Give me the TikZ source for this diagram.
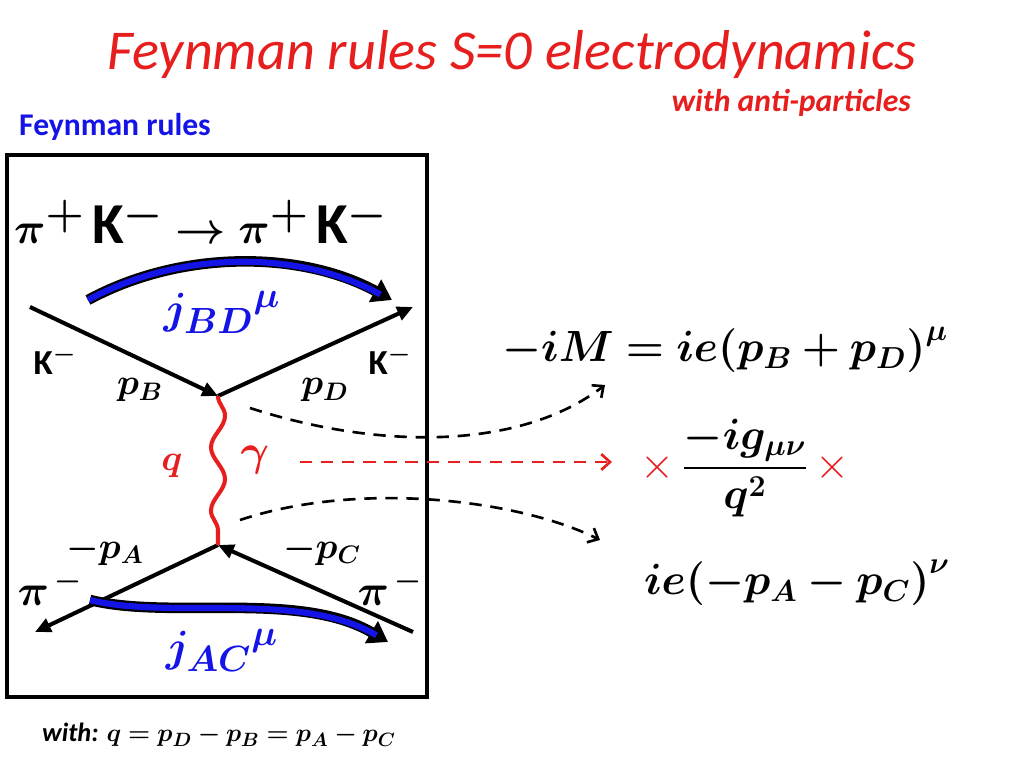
\documentclass[tikz,border=0pt]{standalone}
\usepackage{amsmath,amssymb,bm}
\usepackage{fontspec}
\setmainfont{Carlito}
\usetikzlibrary{arrows,arrows.meta,decorations.pathmorphing}
\definecolor{pptred}{RGB}{230,30,30}
\definecolor{pptblue}{RGB}{20,20,230}
\tikzset{
  leg/.style={line width=2.3pt,-{Triangle[length=9pt,width=8pt]}},
  dashlink/.style={dash pattern=on 7pt off 5pt,line width=1.5pt,->,>={Straight Barb[length=5pt,width=9pt]}},
  lbl/.style={font=\fontsize{20}{22}\selectfont\bfseries},
}
\begin{document}
\begin{tikzpicture}[x=0.02cm,y=-0.02cm]
  \useasboundingbox (0,0) rectangle (1024,768);
  % titles
  \node[text=pptred,font=\fontsize{32}{36}\selectfont\itshape] (title) at (512,55) {Feynman rules S=0 electrodynamics};
  \node[text=pptred,anchor=east,font=\fontsize{18}{20}\selectfont\bfseries\itshape] (sub) at (917,103) {with anti-particles};
  \node[text=pptblue,font=\fontsize{18}{20}\selectfont\bfseries] (fr) at (115,127) {Feynman rules};
  \draw[line width=1.8pt] (7,155) rectangle (427,697);
  \node[anchor=west,font=\fontsize{33}{36}\selectfont\bfseries] (proc) at (8,222) {$\bm{\pi}^{\bm+}\,$K$^{\bm-}\bm\rightarrow\bm{\pi}^{\bm+}\,$K$^{\bm-}$};
  % vertices
  \coordinate (vt) at (218,396);
  \coordinate (vb) at (218,545);
  \coordinate (kin) at (30,307);
  \coordinate (kout) at (413,307);
  \coordinate (pin) at (413,632);
  \coordinate (pout) at (35,632);
  \draw[leg] (kin) -- (vt);
  \draw[leg] (vt) -- (kout);
  \draw[leg] (pin) -- (vb);
  \draw[leg] (vb) -- (pout);
  \draw[pptred,line width=2.3pt,decorate,decoration={snake,amplitude=4pt,segment length=36pt}] (vt) -- (vb);
  % currents
  \draw[line width=6pt,black,-{Triangle[length=11pt,width=14pt]}] (88,300) .. controls (180,250) and (300,250) .. (392,300);
  \draw[line width=3.5pt,pptblue,shorten >=3pt] (88,300) .. controls (180,250) and (300,250) .. (385,297);
  \draw[line width=6pt,black,-{Triangle[length=11pt,width=14pt]}] (90,600) .. controls (170,620) and (300,590) .. (388,642);
  \draw[line width=3.5pt,pptblue,shorten >=3pt] (90,600) .. controls (170,620) and (300,590) .. (381,638);
  \node[text=pptblue,font=\fontsize{31}{34}\selectfont] (jbd) at (222,312) {${\bm{j}}_{\bm{BD}}{}^{\bm\mu}$};
  \node[text=pptblue,font=\fontsize{31}{34}\selectfont] (jac) at (222,650) {${\bm{j}}_{\bm{AC}}{}^{\bm\mu}$};
  % labels
  \node[lbl] (k1) at (55,360) {K$^{\bm-}$};
  \node[lbl] (k2) at (390,360) {K$^{\bm-}$};
  \node[lbl] (pb) at (140,390) {$\bm{p_B}$};
  \node[lbl] (pd) at (325,390) {$\bm{p_D}$};
  \node[lbl,text=pptred] (q) at (172,466) {$\bm q$};
  \node[text=pptred,font=\fontsize{28}{30}\selectfont] (g) at (255,460) {$\bm\gamma$};
  \node[lbl] (pa) at (105,550) {$\bm{-p_A}$};
  \node[lbl] (pc) at (322,550) {$\bm{-p_C}$};
  \node[font=\fontsize{24}{26}\selectfont] (pi1) at (50,588) {$\bm\pi^{\,\bm-}$};
  \node[font=\fontsize{24}{26}\selectfont] (pi2) at (390,588) {$\bm\pi^{\,\bm-}$};
  % rule
  \node[font=\fontsize{26}{28}\selectfont] (vtx) at (725,350) {$\bm{-iM=ie(p_B+p_D)^{\mu}}$};
  \node[font=\fontsize{26}{28}\selectfont] (prop) at (745,468) {$\textcolor{pptred}{\times}\,\dfrac{\bm{-ig_{\mu\nu}}}{\bm{q^2}}\,\textcolor{pptred}{\times}$};
  \node[font=\fontsize{26}{28}\selectfont] (vtx2) at (797,583) {$\bm{ie(-p_A-p_C)^{\nu}}$};
  \draw[dashlink] (250,408) .. controls (380,450) and (520,450) .. (605,385);
  \draw[dashlink,pptred] (300,462) -- (612,462);
  \draw[dashlink] (240,520) .. controls (360,480) and (520,500) .. (600,540);
  \node[anchor=west,font=\fontsize{15}{17}\selectfont\bfseries\itshape] (with) at (36,735) {with: $\bm{q=p_D-p_B=p_A-p_C}$};
\end{tikzpicture}
\end{document}
